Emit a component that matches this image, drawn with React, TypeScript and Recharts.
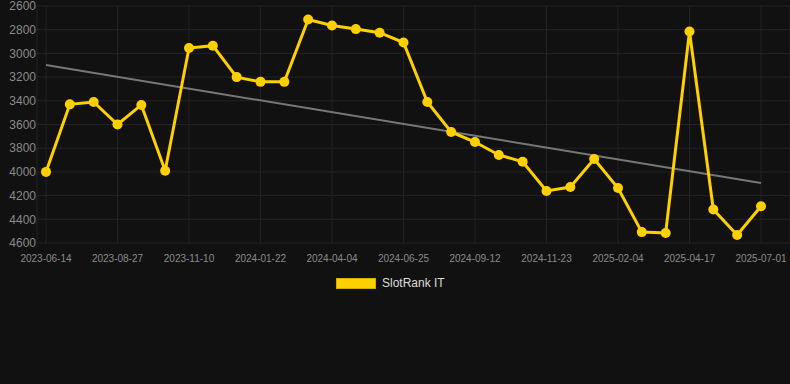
import { LineChart, Line, XAxis, YAxis, CartesianGrid } from 'recharts';

const dates = [
  '2023-06-14', '2023-07-09', '2023-08-02', '2023-08-27', '2023-09-21', '2023-10-16',
  '2023-11-10', '2023-12-04', '2023-12-28', '2024-01-22', '2024-02-15', '2024-03-10',
  '2024-04-04', '2024-05-01', '2024-05-28', '2024-06-25', '2024-07-21', '2024-08-17',
  '2024-09-12', '2024-10-06', '2024-10-30', '2024-11-23', '2024-12-17', '2025-01-11',
  '2025-02-04', '2025-02-28', '2025-03-24', '2025-04-17', '2025-05-12', '2025-06-06',
  '2025-07-01',
];

const rank = [
  4000, 3430, 3410, 3600, 3435, 3990,
  2955, 2935, 3200, 3240, 3240, 2714,
  2765, 2795, 2825, 2908, 3410, 3663,
  3748, 3857, 3914, 4161, 4128, 3891,
  4136, 4508, 4515, 2815, 4317, 4532,
  4290,
];

// trend line: start and end values only
const trendStart = 3098;
const trendEnd = 4094;

const yTicks = [2600, 2800, 3000, 3200, 3400, 3600, 3800, 4000, 4200, 4400, 4600];

const YELLOW = '#FFD000';
const FONT = '"Liberation Sans", Arial, sans-serif';

const data = dates.map((d, i) => ({
  date: d,
  rank: rank[i],
  trend: i === 0 ? trendStart : i === dates.length - 1 ? trendEnd : null,
}));

export default function App() {
  return (
    <div
      style={{
        position: 'fixed',
        top: 0,
        left: 0,
        width: 790,
        height: 384,
        background: '#111111',
        fontFamily: FONT,
      }}
    >
      <LineChart
        width={790}
        height={384}
        data={data}
        margin={{ top: 6, right: 0, bottom: 111, left: 0 }}
      >
        <CartesianGrid stroke="#232323" strokeWidth={1} />
        <XAxis
          dataKey="date"
          interval={2}
          padding={{ left: 9, right: 29 }}
          axisLine={false}
          tickLine={false}
          tickSize={0}
          tickMargin={12}
          height={30}
          tick={{ fontSize: 10, fill: '#8a8a8a', fontFamily: FONT }}
        />
        <YAxis
          reversed
          domain={[2600, 4600]}
          ticks={yTicks}
          interval={0}
          width={37}
          axisLine={false}
          tickLine={false}
          tickSize={0}
          tickMargin={1}
          tick={{ fontSize: 12, fill: '#8a8a8a', fontFamily: FONT }}
        />
        <Line
          dataKey="trend"
          stroke="#777777"
          strokeWidth={2}
          dot={false}
          activeDot={false}
          connectNulls
          isAnimationActive={false}
        />
        <Line
          dataKey="rank"
          type="linear"
          stroke={YELLOW}
          strokeWidth={3}
          dot={{ r: 5, fill: YELLOW, stroke: YELLOW, strokeWidth: 0 }}
          activeDot={false}
          isAnimationActive={false}
        />
      </LineChart>

      {/* legend */}
      <div
        style={{
          position: 'absolute',
          top: 278,
          left: 336,
          display: 'flex',
          alignItems: 'center',
          fontSize: 12,
          color: '#dddddd',
        }}
      >
        <span
          style={{
            display: 'inline-block',
            width: 38,
            height: 9,
            background: YELLOW,
            border: '1px solid #d4ac00',
            marginRight: 6,
          }}
        />
        <span style={{ lineHeight: '11px' }}>SlotRank IT</span>
      </div>
    </div>
  );
}
